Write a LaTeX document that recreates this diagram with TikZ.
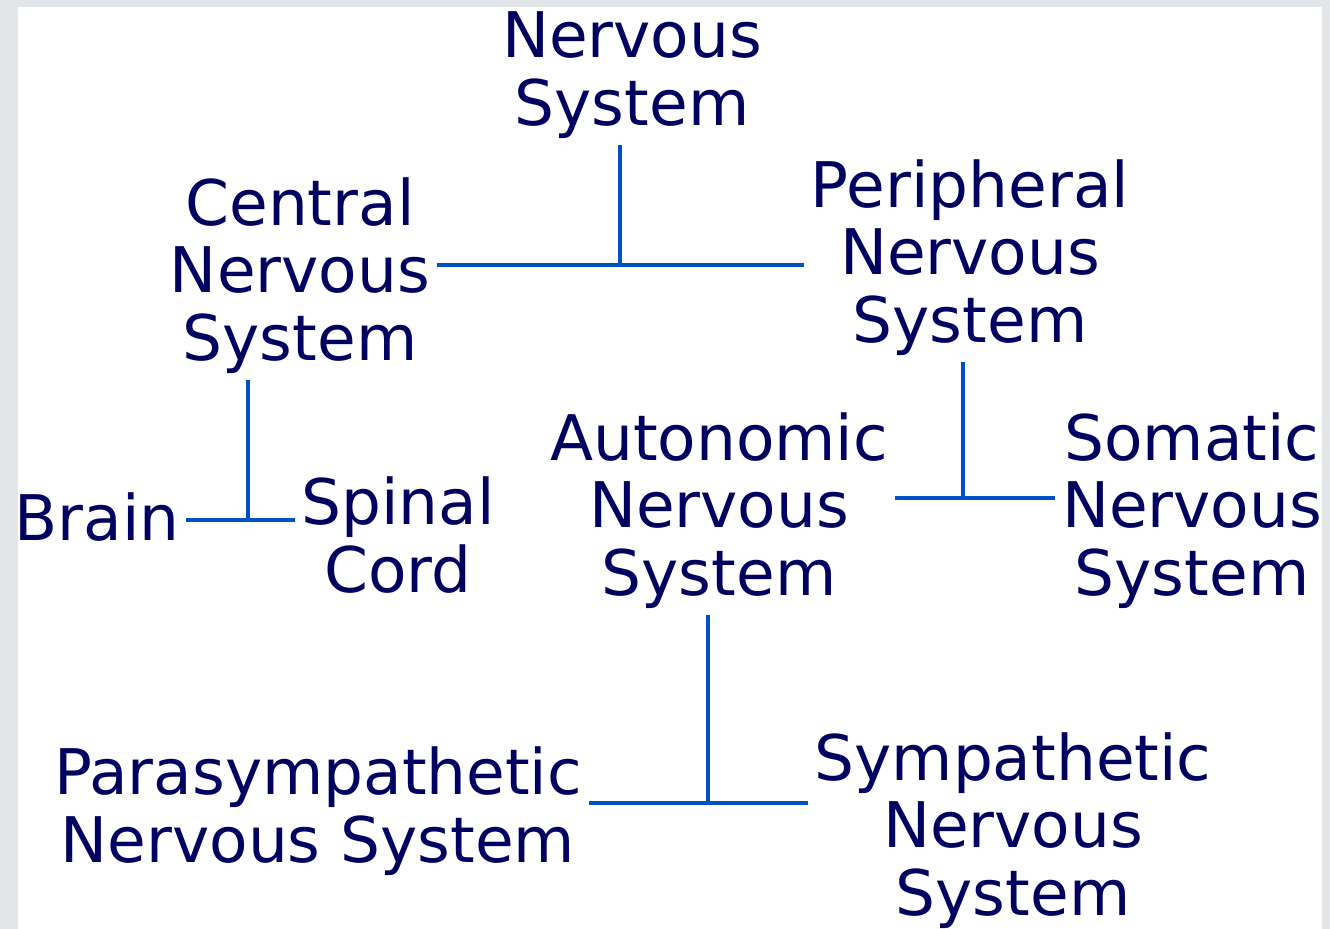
\documentclass[tikz,border=0pt]{standalone}
\usepackage{fontspec}
\setmainfont{DejaVu Sans}
\usepackage{xcolor}
\usepackage{tikz}
\usetikzlibrary{calc, backgrounds}

\definecolor{navytext}{RGB}{0,0,96}
\definecolor{linkblue}{RGB}{0,80,192}
\definecolor{framegray}{RGB}{226,230,232}

\begin{document}
\begin{tikzpicture}[
        term/.style={anchor=base, align=center, inner sep=0.06cm, text=navytext,
                     font=\fontsize{17.9}{19.1}\selectfont},
        wire/.style={draw=linkblue, line width=0.04cm}
    ]

        % frame and page
        \useasboundingbox (0,0) rectangle (13.3,-9.29);
        \fill[framegray] (0,0) rectangle (13.3,-9.29);
        \fill[white] (0.18,-0.07) rectangle (13.22,-9.29);

        % terms (placed at the baseline of their last line)
        \node[term] (ns) at (6.32,-1.25) {Nervous\\System};
        \node[term] (cns) at (3.00,-3.60) {Central\\Nervous\\System};
        \node[term] (pns) at (9.70,-3.42) {Peripheral\\Nervous\\System};
        \node[term] (brain) at (0.97,-5.40) {Brain};
        \node[term] (cord) at (3.98,-5.92) {Spinal\\Cord};
        \node[term] (ans) at (7.19,-5.95) {Autonomic\\Nervous\\System};
        \node[term] (sns) at (11.92,-5.95) {Somatic\\Nervous\\System};
        \node[term] (para) at (3.18,-8.62) {Parasympathetic\\Nervous System};
        \node[term] (symp) at (10.13,-9.15) {Sympathetic\\Nervous\\System};

        % junctions
        \coordinate (j1) at (6.20,-2.65);
        \coordinate (j2) at (2.48,-5.20);
        \coordinate (j3) at (9.63,-4.98);
        \coordinate (j4) at (7.08,-8.03);

        % connectors
        \draw[wire] (ns.south -| j1) -- (j1);
        \draw[wire] (cns.east |- j1) -- (pns.west |- j1);

        \draw[wire] (cns.south -| j2) -- (j2);
        \draw[wire] (brain.east |- j2) -- (cord.west |- j2);

        \draw[wire] (pns.south -| j3) -- (j3);
        \draw[wire] (ans.east |- j3) -- (sns.west |- j3);

        \draw[wire] (ans.south -| j4) -- (j4);
        \draw[wire] (para.east |- j4) -- (symp.west |- j4);
\end{tikzpicture}
\end{document}
